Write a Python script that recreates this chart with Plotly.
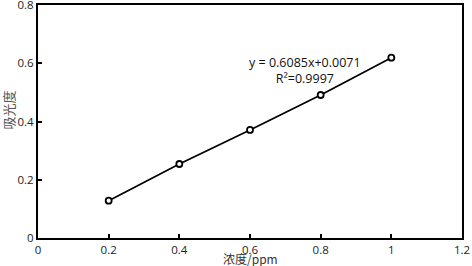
import plotly.graph_objects as go

conc = [0.2, 0.4, 0.6, 0.8, 1.0]
absorb = [0.128, 0.254, 0.371, 0.491, 0.619]
x_ticks = [0, 0.2, 0.4, 0.6, 0.8, 1, 1.2]
x_tick_text = ["0", "0.2", "0.4", "0.6", "0.8", "1", "1.2"]
y_ticks = [0, 0.2, 0.4, 0.6, 0.8]
y_tick_text = ["0", "0.2", "0.4", "0.6", "0.8"]
eq_text = "y = 0.6085x+0.0071<br>R²=0.9997"
x_title = "浓度/ppm"
y_title = "吸光度"

fig = go.Figure()
fig.add_trace(go.Scatter(
    x=conc, y=absorb, mode="lines+markers",
    line=dict(color="black", width=1.8),
    marker=dict(symbol="circle", size=6, color="white", line=dict(color="black", width=1.8)),
    showlegend=False,
))

axis_common = dict(
    showline=True, linecolor="black", linewidth=2, mirror=True,
    ticks="inside", ticklen=4, tickwidth=2, tickcolor="black",
    showgrid=False, zeroline=False, automargin=False,
    ticklabeloverflow="allow",
    tickfont=dict(family="Open Sans, Liberation Sans, sans-serif", size=11.5, color="#222"),
)

fig.update_layout(
    width=472, height=266,
    margin=dict(l=38, r=10, t=5, b=28),
    paper_bgcolor="white", plot_bgcolor="white",
    xaxis=dict(range=[0, 1.2], tickvals=x_ticks, ticktext=x_tick_text, **axis_common),
    yaxis=dict(range=[0, 0.8], tickvals=y_ticks, ticktext=y_tick_text, **axis_common),
    annotations=[
        dict(x=0.756, y=0.575, xref="x", yref="y", text=eq_text, showarrow=False,
             font=dict(family="Open Sans, Liberation Sans, sans-serif", size=12.5, color="#111"),
             align="center"),
        dict(x=0.5, y=0, xref="paper", yref="paper", yshift=-20.5, text=x_title, showarrow=False,
             font=dict(family="Noto Sans CJK SC, Open Sans, sans-serif", size=12, color="#333"),
             xanchor="center", yanchor="middle"),
        dict(x=0, y=0.5, xref="paper", yref="paper", xshift=-30, yshift=11, text=y_title,
             showarrow=False, textangle=-90,
             font=dict(family="Noto Sans CJK SC, sans-serif", size=13, color="#555"),
             xanchor="center", yanchor="middle"),
    ],
)

fig.write_html("out.html", config={"displayModeBar": False},
               post_script="document.body.style.margin='0';document.body.style.overflow='hidden';")
